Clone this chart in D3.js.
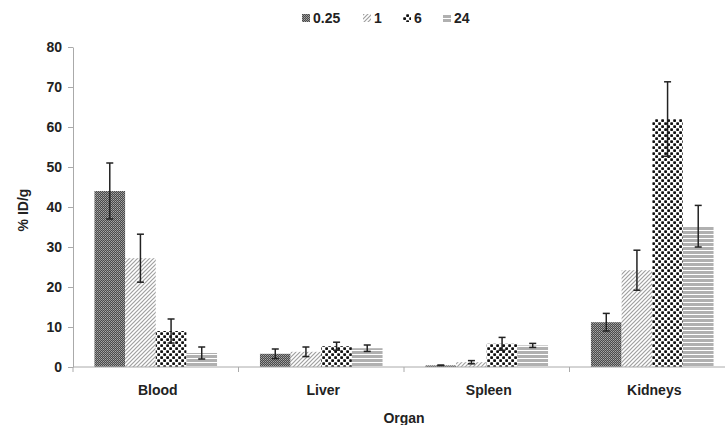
<!DOCTYPE html>
<html>
<head>
<meta charset="utf-8">
<script src="https://cdn.jsdelivr.net/npm/d3@7"></script>
<style>
  body { margin: 0; background: #fff; }
  text { font-family: "Liberation Sans", Arial, sans-serif; font-weight: bold; fill: #222; }
</style>
</head>
<body>
<svg id="drawing_region"></svg>
<script>
// organs and time points (h)
const organs = ["Blood", "Liver", "Spleen", "Kidneys"];
const times = ["0.25", "1", "6", "24"];

// mean %ID/g per organ, one array per time point
const v025 = [44, 3.3, 0.4, 11.2];
const v1   = [27.2, 3.8, 1.2, 24.2];
const v6   = [9, 5.2, 5.8, 62];
const v24  = [3.5, 4.7, 5.4, 35.2];

// error (+/-)
const e025 = [7, 1.2, 0.1, 2.2];
const e1   = [6, 1.2, 0.4, 5];
const e6   = [3, 1, 1.6, 9.3];
const e24  = [1.5, 0.8, 0.5, 5.2];

const yticks = [0, 10, 20, 30, 40, 50, 60, 70, 80];

const means = [v025, v1, v6, v24];
const errs = [e025, e1, e6, e24];

const data = [];
organs.forEach((o, i) => {
    times.forEach((t, j) => {
        data.push({ organ: o, time: t, value: means[j][i], err: errs[j][i] });
    });
});

const width = 725, height = 425;
const margin = { top: 47, right: -10, bottom: 58, left: 73 };
const inner_width = width - margin.left - margin.right;
const inner_height = height - margin.top - margin.bottom;

const svg = d3.select('#drawing_region')
    .attr('width', width)
    .attr('height', height);

// fill patterns
const defs = svg.append('defs');

let p = defs.append('pattern').attr('id', 'pat0')
    .attr('patternUnits', 'userSpaceOnUse').attr('width', 2).attr('height', 2);
p.append('rect').attr('width', 2).attr('height', 2).attr('fill', '#4a4a4a');
p.append('rect').attr('x', 0).attr('y', 0).attr('width', 1).attr('height', 1).attr('fill', '#a8a8a8');
p.append('rect').attr('x', 1).attr('y', 1).attr('width', 1).attr('height', 1).attr('fill', '#8c8c8c');

p = defs.append('pattern').attr('id', 'pat1')
    .attr('patternUnits', 'userSpaceOnUse').attr('width', 4).attr('height', 4);
p.append('rect').attr('width', 4).attr('height', 4).attr('fill', '#fff');
p.append('path').attr('d', 'M0,4 L4,0 M-1,1 L1,-1 M3,5 L5,3')
    .attr('stroke', '#a0a0a0').attr('stroke-width', 1.2);

p = defs.append('pattern').attr('id', 'pat2')
    .attr('patternUnits', 'userSpaceOnUse').attr('width', 6).attr('height', 6);
p.append('rect').attr('width', 6).attr('height', 6).attr('fill', '#fff');
p.append('rect').attr('x', 0.2).attr('y', 0.2).attr('width', 2.8).attr('height', 2.8).attr('rx', 0.7).attr('fill', '#111');
p.append('rect').attr('x', 3.2).attr('y', 3.2).attr('width', 2.8).attr('height', 2.8).attr('rx', 0.7).attr('fill', '#111');

p = defs.append('pattern').attr('id', 'pat3')
    .attr('patternUnits', 'userSpaceOnUse').attr('width', 4).attr('height', 4);
p.append('rect').attr('width', 4).attr('height', 4).attr('fill', '#b0b0b0');
p.append('rect').attr('y', 3).attr('width', 4).attr('height', 1).attr('fill', '#fff');

const fills = { "0.25": "url(#pat0)", "1": "url(#pat1)", "6": "url(#pat2)", "24": "url(#pat3)" };

const chart = svg.append('g')
    .attr('transform', `translate(${margin.left}, ${margin.top})`);

const xscale = d3.scaleBand()
    .domain(organs)
    .range([0, inner_width]);

const xinner = d3.scaleBand()
    .domain(times)
    .range([0, xscale.bandwidth()])
    .paddingOuter(0.7);

const yscale = d3.scaleLinear()
    .domain([0, 80])
    .range([inner_height, 0]);

// bars
chart.selectAll('rect.bar')
    .data(data)
    .enter()
    .append('rect')
    .attr('class', 'bar')
    .attr('x', d => xscale(d.organ) + xinner(d.time))
    .attr('y', d => yscale(d.value))
    .attr('width', xinner.bandwidth())
    .attr('height', d => inner_height - yscale(d.value))
    .attr('fill', d => fills[d.time]);

// error bars
const eb = chart.selectAll('g.err')
    .data(data)
    .enter()
    .append('g')
    .attr('class', 'err')
    .attr('stroke', '#222')
    .attr('stroke-width', 1.5);

const cx = d => xscale(d.organ) + xinner(d.time) + xinner.bandwidth() / 2;

eb.append('line')
    .attr('x1', cx).attr('x2', cx)
    .attr('y1', d => yscale(d.value + d.err))
    .attr('y2', d => yscale(Math.max(0, d.value - d.err)));
eb.append('line')
    .attr('x1', d => cx(d) - 3.5).attr('x2', d => cx(d) + 3.5)
    .attr('y1', d => yscale(d.value + d.err))
    .attr('y2', d => yscale(d.value + d.err));
eb.append('line')
    .attr('x1', d => cx(d) - 3.5).attr('x2', d => cx(d) + 3.5)
    .attr('y1', d => yscale(Math.max(0, d.value - d.err)))
    .attr('y2', d => yscale(Math.max(0, d.value - d.err)));

// y axis
const yaxis_group = chart.append('g')
    .call(d3.axisLeft(yscale).tickValues(yticks).tickSize(5).tickSizeOuter(0).tickPadding(6));
yaxis_group.select('.domain').attr('stroke', '#aaa');
yaxis_group.selectAll('.tick line').attr('stroke', '#aaa');
yaxis_group.selectAll('text')
    .style('font-size', '14px')
    .style('font-family', '"Liberation Sans", Arial, sans-serif')
    .style('font-weight', 'bold')
    .attr('fill', '#222');

// x axis with ticks at the category boundaries
const xaxis_group = chart.append('g')
    .attr('transform', `translate(0, ${inner_height})`);
xaxis_group.append('line')
    .attr('x1', 0).attr('x2', inner_width)
    .attr('stroke', '#aaa');
xaxis_group.selectAll('line.tk')
    .data(organs)
    .enter()
    .append('line')
    .attr('class', 'tk')
    .attr('x1', d => xscale(d)).attr('x2', d => xscale(d))
    .attr('y1', 0).attr('y2', 5)
    .attr('stroke', '#aaa');
xaxis_group.selectAll('text')
    .data(organs)
    .enter()
    .append('text')
    .attr('x', d => xscale(d) + xscale.bandwidth() / 2 + 2)
    .attr('y', 28)
    .attr('text-anchor', 'middle')
    .style('font-size', '14px')
    .text(d => d);

// axis labels
svg.append('text')
    .attr('x', 404)
    .attr('y', 423)
    .attr('text-anchor', 'middle')
    .style('font-size', '14px')
    .text('Organ');

svg.append('text')
    .attr('transform', 'rotate(-90)')
    .attr('x', -210)
    .attr('y', 28)
    .attr('text-anchor', 'middle')
    .style('font-size', '14px')
    .text('% ID/g');

// legend
const legendX = [302, 363, 403, 443];
const legend = svg.append('g')
    .selectAll('g')
    .data(times)
    .enter()
    .append('g')
    .attr('transform', (d, i) => `translate(${legendX[i]}, 23)`);
legend.append('rect')
    .attr('x', 0).attr('y', -9)
    .attr('width', 8).attr('height', 8)
    .attr('fill', d => fills[d]);
legend.append('text')
    .attr('x', 11).attr('y', 0)
    .style('font-size', '14px')
    .text(d => d);
</script>
</body>
</html>
